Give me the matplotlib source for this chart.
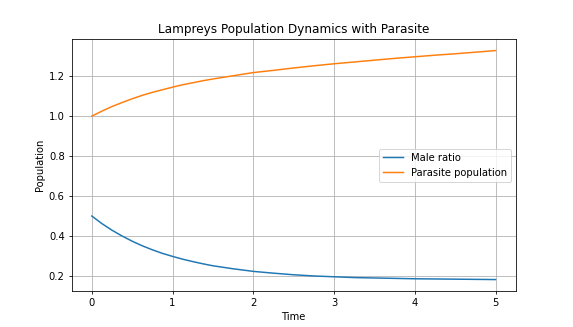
import matplotlib
matplotlib.use("Agg")
import matplotlib.pyplot as plt

# time samples and the two simulated quantities
time = [0.0, 0.125, 0.25, 0.375, 0.5, 0.625, 0.75, 0.875, 1.0, 1.125, 1.25, 1.375, 1.5,
        1.75, 2.0, 2.25, 2.5, 2.75, 3.0, 3.25, 3.5, 3.75, 4.0, 4.25, 4.5, 4.75, 5.0]
male_ratio = [0.500, 0.462, 0.429, 0.400, 0.374, 0.351, 0.331, 0.313, 0.298, 0.284, 0.272, 0.261, 0.251,
              0.236, 0.223, 0.214, 0.206, 0.200, 0.196, 0.192, 0.190, 0.188, 0.186, 0.185, 0.184, 0.183, 0.182]
parasite = [1.000, 1.025, 1.048, 1.068, 1.087, 1.104, 1.119, 1.132, 1.145, 1.157, 1.167, 1.177, 1.186,
            1.202, 1.218, 1.229, 1.241, 1.252, 1.262, 1.271, 1.280, 1.289, 1.297, 1.305, 1.312, 1.320, 1.328]

fig = plt.figure(figsize=(8, 4.567))
plt.plot(time, male_ratio, label='Male ratio')
plt.plot(time, parasite, label='Parasite population')
plt.xlabel('Time')
plt.ylabel('Population')
plt.title('Lampreys Population Dynamics with Parasite')
plt.legend(loc='center right')
plt.grid(True)
plt.savefig('out.png', dpi=71.625)
